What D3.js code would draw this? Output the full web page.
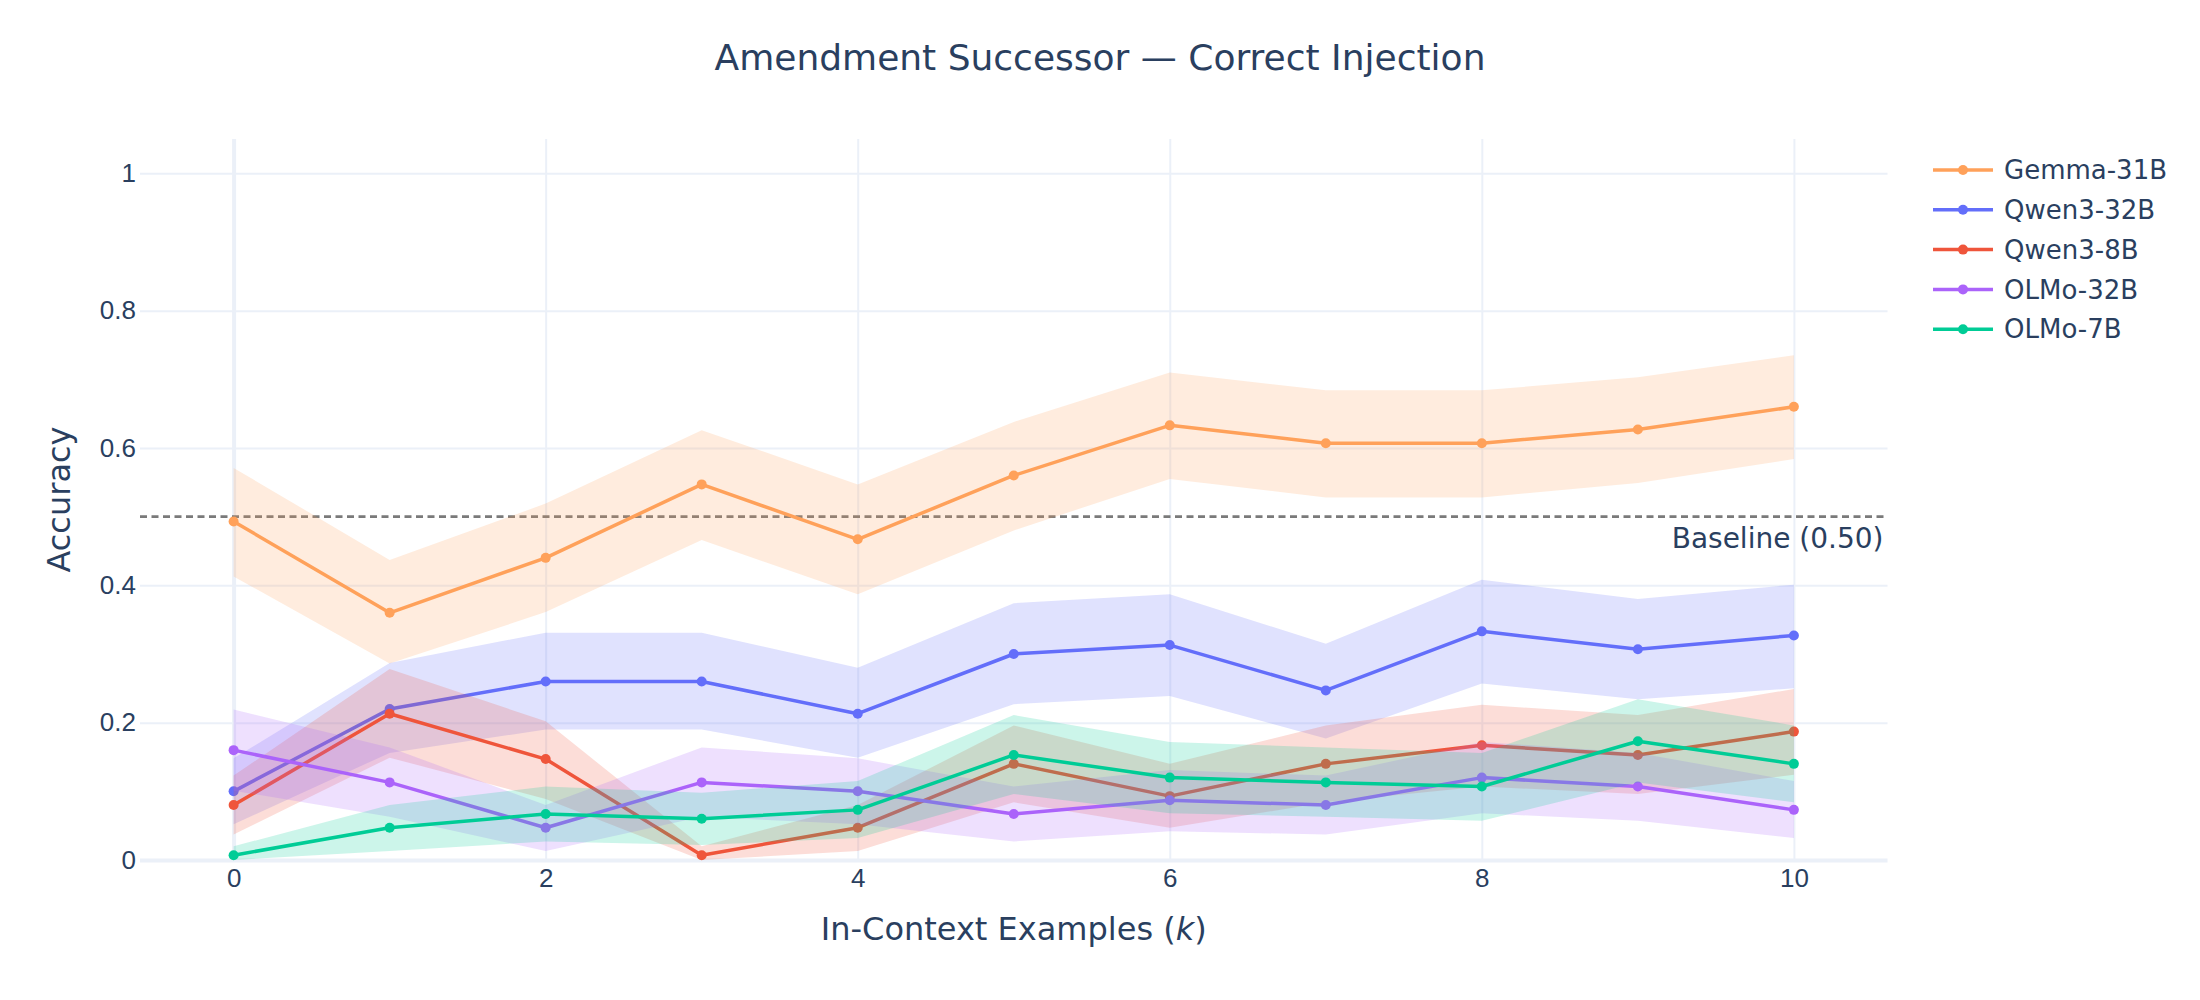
<!DOCTYPE html>
<html>
<head>
<meta charset="utf-8">
<script src="https://cdn.jsdelivr.net/npm/d3@7"></script>
<style>
  body { margin: 0; background: #fff; }
  svg { display: block; font-family: "DejaVu Sans", sans-serif; }
</style>
</head>
<body>
<div id="chart"></div>
<script>
// values
const kValues = [0, 1, 2, 3, 4, 5, 6, 7, 8, 9, 10];
const xTicks = [0, 2, 4, 6, 8, 10];
const yTicks = [0, 0.2, 0.4, 0.6, 0.8, 1];
const modelNames = ['Gemma-31B', 'Qwen3-32B', 'Qwen3-8B', 'OLMo-32B', 'OLMo-7B'];
const baselineValue = 0.5;

const gemmaMean = [0.493, 0.360, 0.440, 0.547, 0.467, 0.560, 0.633, 0.607, 0.607, 0.627, 0.660];
const gemmaLow  = [0.413, 0.286, 0.361, 0.466, 0.387, 0.480, 0.555, 0.528, 0.528, 0.549, 0.584];
const gemmaHigh = [0.571, 0.437, 0.519, 0.626, 0.547, 0.638, 0.710, 0.684, 0.684, 0.703, 0.735];

const qwen32Mean = [0.100, 0.220, 0.260, 0.260, 0.213, 0.300, 0.313, 0.247, 0.333, 0.307, 0.327];
const qwen32Low  = [0.052, 0.156, 0.190, 0.190, 0.149, 0.227, 0.239, 0.177, 0.257, 0.234, 0.250];
const qwen32High = [0.148, 0.287, 0.331, 0.331, 0.280, 0.374, 0.387, 0.315, 0.408, 0.380, 0.401];

const qwen8Mean = [0.080, 0.213, 0.147, 0.007, 0.047, 0.140, 0.093, 0.140, 0.167, 0.153, 0.187];
const qwen8Low  = [0.037, 0.149, 0.089, 0.000, 0.013, 0.084, 0.047, 0.084, 0.107, 0.096, 0.124];
const qwen8High = [0.123, 0.278, 0.202, 0.020, 0.080, 0.196, 0.140, 0.196, 0.226, 0.211, 0.249];

const olmo32Mean = [0.160, 0.113, 0.047, 0.113, 0.100, 0.067, 0.087, 0.080, 0.120, 0.107, 0.073];
const olmo32Low  = [0.101, 0.063, 0.013, 0.063, 0.052, 0.027, 0.042, 0.037, 0.068, 0.057, 0.032];
const olmo32High = [0.219, 0.164, 0.080, 0.164, 0.148, 0.107, 0.131, 0.123, 0.172, 0.156, 0.115];

const olmo7Mean = [0.007, 0.047, 0.067, 0.060, 0.073, 0.153, 0.120, 0.113, 0.107, 0.173, 0.140];
const olmo7Low  = [0.000, 0.013, 0.027, 0.022, 0.032, 0.096, 0.068, 0.063, 0.057, 0.113, 0.084];
const olmo7High = [0.020, 0.080, 0.107, 0.098, 0.115, 0.211, 0.172, 0.164, 0.156, 0.234, 0.196];

const seriesMean = [gemmaMean, qwen32Mean, qwen8Mean, olmo32Mean, olmo7Mean];
const seriesLow  = [gemmaLow, qwen32Low, qwen8Low, olmo32Low, olmo7Low];
const seriesHigh = [gemmaHigh, qwen32High, qwen8High, olmo32High, olmo7High];

// look
const opts = {
  width: 2200, height: 1000,
  plot: {left: 140, right: 1887.5, top: 139, bottom: 860},
  colors: ['#FFA15A', '#636EFA', '#EF553B', '#AB63FA', '#00CC96'],
  text: '#2a3f5f', grid: '#EBF0F8',
  lineWidth: 3.5, radius: 5, bandOpacity: 0.2
};

const svg = d3.select('#chart').append('svg')
  .attr('width', opts.width)
  .attr('height', opts.height);

svg.append('rect').attr('width', opts.width).attr('height', opts.height).attr('fill', '#fff');

const x = d3.scaleLinear().domain([-0.6, 10.6]).range([opts.plot.left, opts.plot.right]);
const y = d3.scaleLinear().domain([0, 1.05]).range([opts.plot.bottom, opts.plot.top]);

// grid + tick labels
const xAxis = svg.append('g')
  .attr('transform', `translate(0 ${opts.plot.bottom})`)
  .call(d3.axisBottom(x).tickValues(xTicks).tickFormat(d3.format('d'))
    .tickSizeInner(-(opts.plot.bottom - opts.plot.top)).tickSizeOuter(0).tickPadding(9));
xAxis.select('.domain').remove();
xAxis.selectAll('line').attr('stroke', opts.grid).attr('stroke-width', d => d === 0 ? 4 : 2);
xAxis.selectAll('text').attr('fill', opts.text).attr('font-size', 26);

const yAxis = svg.append('g')
  .attr('transform', `translate(${opts.plot.left} 0)`)
  .call(d3.axisLeft(y).tickValues(yTicks).tickFormat(d => String(+d.toFixed(1)))
    .tickSizeInner(-(opts.plot.right - opts.plot.left)).tickSizeOuter(0).tickPadding(4));
yAxis.select('.domain').remove();
yAxis.selectAll('line').attr('stroke', opts.grid).attr('stroke-width', d => d === 0 ? 4 : 2);
yAxis.selectAll('text').attr('fill', opts.text).attr('font-size', 26);

// baseline
svg.append('line')
  .attr('x1', opts.plot.left).attr('x2', opts.plot.right)
  .attr('y1', y(baselineValue)).attr('y2', y(baselineValue))
  .attr('stroke', '#7a7a7a').attr('stroke-width', 2.8)
  .attr('stroke-dasharray', '7,4.5');

svg.append('text')
  .attr('x', opts.plot.right - 4).attr('y', y(baselineValue) + 31)
  .attr('text-anchor', 'end').attr('font-size', 28).attr('fill', opts.text)
  .text(`Baseline (${baselineValue.toFixed(2)})`);

// series: band, line, markers in trace order
const area = d3.area().x(d => x(d.k)).y0(d => y(d.lo)).y1(d => y(d.hi));
const line = d3.line().x(d => x(d.k)).y(d => y(d.v));

const data = svg.append('g').attr('id', 'data');
for (let i = 0; i < modelNames.length; i++) {
  const rows = kValues.map((k, j) => ({k: k, v: seriesMean[i][j], lo: seriesLow[i][j], hi: seriesHigh[i][j]}));
  const gr = data.append('g');

  gr.append('path').datum(rows)
    .attr('d', area)
    .attr('fill', opts.colors[i]).attr('fill-opacity', opts.bandOpacity);

  gr.append('path').datum(rows)
    .attr('d', line)
    .attr('fill', 'none').attr('stroke', opts.colors[i])
    .attr('stroke-width', opts.lineWidth).attr('stroke-linejoin', 'round');

  gr.selectAll('circle').data(rows).join('circle')
    .attr('cx', d => x(d.k)).attr('cy', d => y(d.v))
    .attr('r', opts.radius).attr('fill', opts.colors[i]);
}

// legend
const legend = svg.append('g').attr('id', 'legend');
modelNames.forEach((name, i) => {
  const ly = 170 + i * 39.8;
  legend.append('line')
    .attr('x1', 1933).attr('x2', 1993).attr('y1', ly).attr('y2', ly)
    .attr('stroke', opts.colors[i]).attr('stroke-width', opts.lineWidth);
  legend.append('circle')
    .attr('cx', 1963).attr('cy', ly).attr('r', opts.radius).attr('fill', opts.colors[i]);
  legend.append('text')
    .attr('x', 2004).attr('y', ly).attr('dy', '0.35em')
    .attr('font-size', 26).attr('fill', opts.text)
    .text(name);
});

// titles
svg.append('text')
  .attr('x', opts.width / 2).attr('y', 70)
  .attr('text-anchor', 'middle').attr('font-size', 36).attr('fill', opts.text)
  .text('Amendment Successor — Correct Injection');

const xt = svg.append('text')
  .attr('x', (opts.plot.left + opts.plot.right) / 2).attr('y', 940)
  .attr('text-anchor', 'middle').attr('font-size', 32).attr('fill', opts.text);
xt.append('tspan').text('In-Context Examples (');
xt.append('tspan').attr('font-style', 'italic').text('k');
xt.append('tspan').text(')');

svg.append('text')
  .attr('transform', `translate(70 ${(opts.plot.top + opts.plot.bottom) / 2}) rotate(-90)`)
  .attr('text-anchor', 'middle').attr('font-size', 32).attr('fill', opts.text)
  .text('Accuracy');
</script>
</body>
</html>
